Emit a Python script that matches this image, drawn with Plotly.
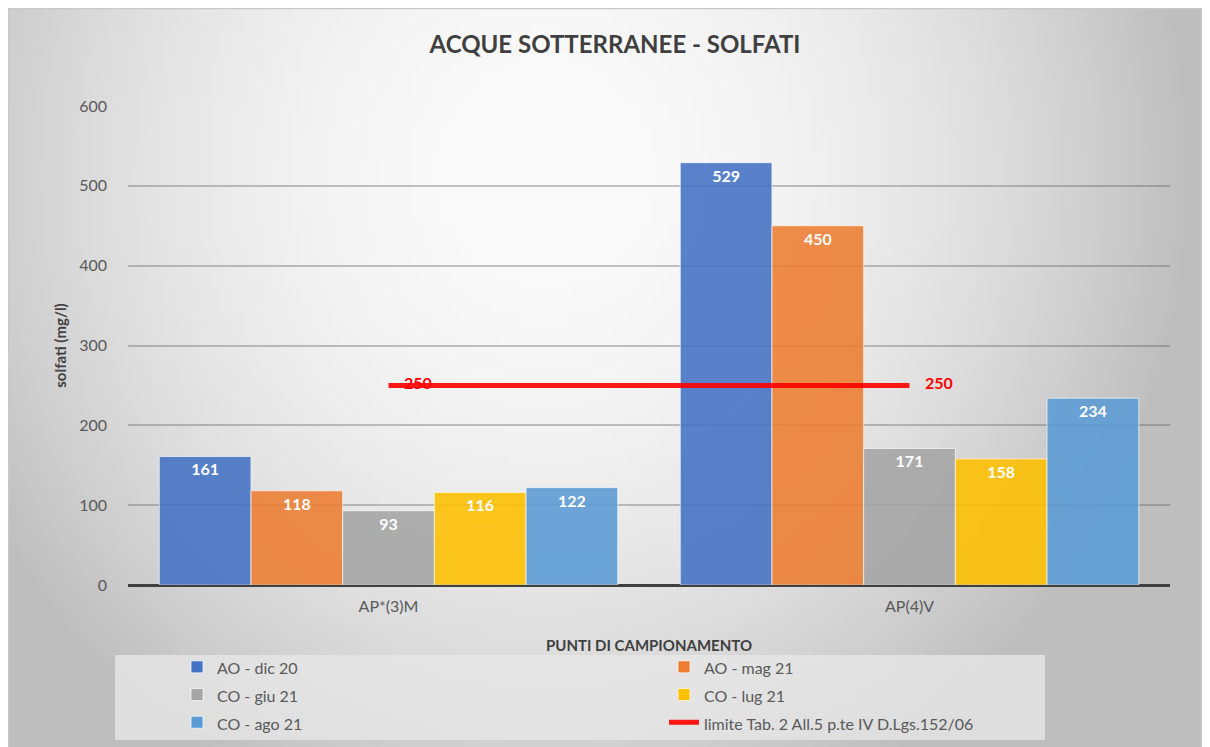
import base64, struct, zlib
import plotly.graph_objects as go

# ---------------- data ----------------
categories = ["AP*(3)M", "AP(4)V"]
series_names = ["AO - dic 20", "AO - mag 21", "CO - giu 21", "CO - lug 21", "CO - ago 21"]
series_values = [
    [161, 529],
    [118, 450],
    [93, 171],
    [116, 158],
    [122, 234],
]
limit_name = "limite Tab. 2 All.5 p.te IV D.Lgs.152/06"
limit_values = [250, 250]
y_ticks = [0, 100, 200, 300, 400, 500, 600]

colors = ["#4472C4", "#ED7D31", "#A5A5A5", "#FFC000", "#5B9BD5"]
FONT = "Lato"

# ---------------- background gradient (PNG data URI) ----------------
def gradient_png(w=120, h=74):
    rows = b""
    for j in range(h):
        v = j / (h - 1)
        row = bytearray([0])
        for i in range(w):
            u = i / (w - 1)
            d = (((u - 0.45) / 0.55) ** 2 + ((v - 0.22) / 0.95) ** 2) ** 0.5
            val = 251 - 62 * d ** 2
            val = max(190, min(255, val))
            row.append(int(val))
        rows += bytes(row)

    def chunk(t, data):
        c = struct.pack(">I", len(data)) + t + data
        return c + struct.pack(">I", zlib.crc32(t + data) & 0xFFFFFFFF)

    png = b"\x89PNG\r\n\x1a\n"
    png += chunk(b"IHDR", struct.pack(">IIBBBBB", w, h, 8, 0, 0, 0, 0))
    png += chunk(b"IDAT", zlib.compress(rows, 9))
    png += chunk(b"IEND", b"")
    return "data:image/png;base64," + base64.b64encode(png).decode()

# figure geometry in pixels (page has an 8px body margin)
W, H = 1194, 739
PL, PR, PT, PB = 120, 1162, 98, 577
pw, ph = PR - PL, PB - PT

def px(x):
    return (x - PL) / pw

def py(y):
    return (PB - y) / ph

NB = "\u00a0" * 4

def legend_label(n):
    return "<span style='font-size:16px'>" + n + "</span>"

fig = go.Figure()

for name, vals, col in zip(series_names, series_values, colors):
    fig.add_trace(go.Bar(
        x=categories, y=vals, name=legend_label(name),
        marker=dict(color=col, opacity=0.88, line=dict(color="rgba(255,255,255,0.7)", width=1)),
        text=vals, texttemplate="%{y}", textposition="inside", insidetextanchor="end",
        textfont=dict(color="white", size=16, family=FONT, weight="bold"),
        constraintext="none",
    ))

fig.add_trace(go.Scatter(
    x=categories, y=limit_values, name=legend_label(limit_name),
    mode="lines+text", text=[NB + str(v) for v in limit_values], textposition="middle right",
    line=dict(color="rgba(255,0,0,0.9)", width=5),
    textfont=dict(color="#FF0000", size=16, family=FONT, weight="bold"),
))

fig.update_layout(
    width=W, height=H,
    margin=dict(l=PL, r=W - PR, t=PT, b=H - PB, autoexpand=False),
    paper_bgcolor="white", plot_bgcolor="rgba(0,0,0,0)",
    barmode="group", bargap=0.12, bargroupgap=0,
    font=dict(family=FONT, color="#595959", size=16),
    title=dict(text="<b>ACQUE SOTTERRANEE - SOLFATI</b>", x=607 / W, xanchor="center",
               y=1 - 37 / H, yanchor="middle", font=dict(size=24, color="#404040", family=FONT)),
    showlegend=True,
    legend=dict(orientation="h", x=px(169), xanchor="left", y=py(640), yanchor="top",
                entrywidth=442, entrywidthmode="pixels", bgcolor="rgba(0,0,0,0)",
                font=dict(size=19, color="#595959", family=FONT), traceorder="normal"),
    images=[dict(source=gradient_png(), xref="paper", yref="paper",
                 x=px(0), y=py(0), sizex=W / pw, sizey=H / ph,
                 xanchor="left", yanchor="top", sizing="stretch", layer="below")],
    shapes=[
        dict(type="rect", xref="paper", yref="paper", x0=px(107), x1=px(1037), y0=py(647), y1=py(732),
             fillcolor="rgba(232,232,232,0.75)", line=dict(width=0), layer="below"),
        dict(type="rect", xref="paper", yref="paper", x0=px(0.5), x1=px(W - 0.5), y0=py(0.5), y1=py(H + 2),
             line=dict(color="#c8c8c8", width=1.5), fillcolor="rgba(0,0,0,0)"),
    ],
)

fig.update_xaxes(
    showgrid=False, showline=False, ticks="", ticklabelstandoff=10,
    tickfont=dict(size=16, color="#595959", family=FONT),
    title=dict(text="<b>PUNTI DI CAMPIONAMENTO</b>", standoff=26,
               font=dict(size=15, color="#404040", family=FONT)),
)
fig.update_yaxes(
    range=[0, 600], tickvals=y_ticks, showgrid=True, gridcolor="rgba(90,90,90,0.35)", gridwidth=1.5,
    zeroline=True, zerolinecolor="#404040", zerolinewidth=3,
    showline=False, ticks="", ticklabelstandoff=20,
    tickfont=dict(size=16, color="#595959", family=FONT),
    title=dict(text="<b>solfati (mg/l)</b>", standoff=8,
               font=dict(size=15, color="#404040", family=FONT)),
)

fig.write_html("out.html")
